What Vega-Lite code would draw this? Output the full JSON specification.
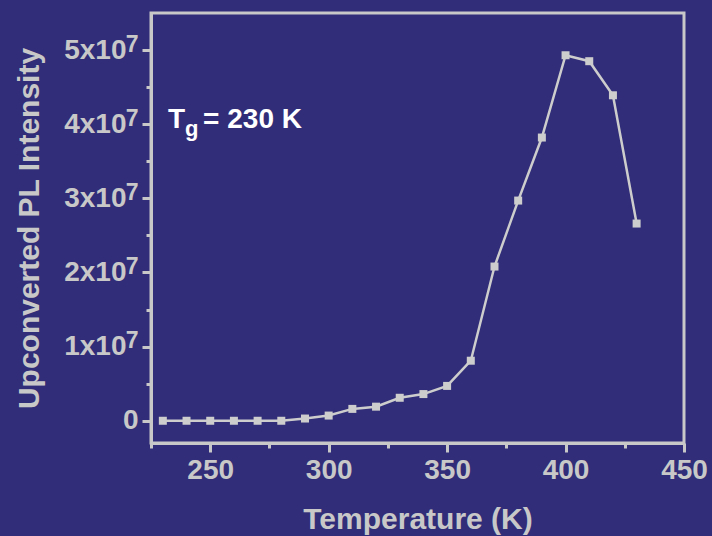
{
  "$schema": "https://vega.github.io/schema/vega-lite/v6.json",
  "width": 533,
  "height": 430,
  "autosize": {"type": "none"},
  "padding": {"left": 151, "top": 13, "right": 28, "bottom": 93},
  "background": "#312d78",
  "config": {
    "view": {"stroke": "#c8c8c8", "strokeWidth": 3},
    "font": "Liberation Sans",
    "axis": {
      "grid": false,
      "domainColor": "#c8c8c8",
      "domainWidth": 3,
      "tickColor": "#c8c8c8",
      "tickWidth": 3,
      "labelColor": "#c8c8c8",
      "labelFont": "Liberation Sans",
      "labelFontWeight": "bold",
      "labelFontSize": 28,
      "titleColor": "#c8c8c8",
      "titleFont": "Liberation Sans",
      "titleFontWeight": "bold",
      "titleFontSize": 30
    }
  },
  "data": {
    "values": [
      {"T": 230, "I": 0},
      {"T": 240, "I": 0},
      {"T": 250, "I": 0},
      {"T": 260, "I": 0},
      {"T": 270, "I": 0},
      {"T": 280, "I": 0},
      {"T": 290, "I": 300000},
      {"T": 300, "I": 700000},
      {"T": 310, "I": 1600000},
      {"T": 320, "I": 1900000},
      {"T": 330, "I": 3100000},
      {"T": 340, "I": 3600000},
      {"T": 350, "I": 4700000},
      {"T": 360, "I": 8100000},
      {"T": 370, "I": 20800000},
      {"T": 380, "I": 29700000},
      {"T": 390, "I": 38200000},
      {"T": 400, "I": 49300000},
      {"T": 410, "I": 48500000},
      {"T": 420, "I": 43900000},
      {"T": 430, "I": 26600000}
    ]
  },
  "resolve": {"axis": {"y": "independent"}},
  "layer": [
    {
      "mark": {"type": "line", "color": "#cdcdcd", "strokeWidth": 2.5},
      "encoding": {
        "x": {
          "field": "T", "type": "quantitative",
          "scale": {"domain": [225, 450], "nice": false, "zero": false},
          "axis": {
            "title": "Temperature (K)",
            "values": [225, 250, 275, 300, 325, 350, 375, 400, 425, 450],
            "labelExpr": "datum.value % 50 == 0 ? datum.label : ''",
            "tickSize": {"condition": {"test": "datum.value % 50 == 0", "value": 9}, "value": 5},
            "labelPadding": 4,
            "titlePadding": 20,
            "labelFlush": false,
            "labelOverlap": false
          }
        },
        "y": {
          "field": "I", "type": "quantitative",
          "scale": {"domain": [-3000000, 55000000], "nice": false, "zero": false},
          "axis": {
            "orient": "left",
            "title": "Upconverted PL Intensity",
            "values": [0, 5000000, 10000000, 15000000, 20000000, 25000000, 30000000, 35000000, 40000000, 45000000, 50000000],
            "labelExpr": "datum.value != 0 && datum.value % 10000000 == 0 ? format(datum.value / 10000000, 'd') + 'x10' : ''",
            "tickSize": {"condition": {"test": "datum.value % 10000000 == 0", "value": 9}, "value": 5},
            "labelPadding": 16,
            "titlePadding": 19,
            "labelFlush": false,
            "labelOverlap": false
          }
        }
      }
    },
    {
      "mark": {"type": "point", "shape": "square", "filled": true, "size": 64, "color": "#cdcdcd", "opacity": 1},
      "encoding": {
        "x": {"field": "T", "type": "quantitative"},
        "y": {
          "field": "I", "type": "quantitative",
          "axis": {
            "orient": "left",
            "title": null,
            "domain": false,
            "ticks": false,
            "values": [0, 10000000, 20000000, 30000000, 40000000, 50000000],
            "labelExpr": "datum.value == 0 ? '0' : '7'",
            "labelFontSize": {"condition": {"test": "datum.value == 0", "value": 28}, "value": 23},
            "labelOffset": {"condition": {"test": "datum.value == 0", "value": 0}, "value": -6},
            "labelPadding": 13,
            "labelFlush": false,
            "labelOverlap": false
          }
        }
      }
    },
    {
      "data": {"values": [{}]},
      "mark": {"type": "text", "text": "T", "color": "white", "fontSize": 28, "fontWeight": "bold", "align": "left", "baseline": "alphabetic", "font": "Liberation Sans"},
      "encoding": {"x": {"datum": 232.2}, "y": {"datum": 39500000, "axis": null}}
    },
    {
      "data": {"values": [{}]},
      "mark": {"type": "text", "text": "g", "color": "white", "fontSize": 22, "fontWeight": "bold", "align": "left", "baseline": "alphabetic", "font": "Liberation Sans"},
      "encoding": {"x": {"datum": 239.3}, "y": {"datum": 38400000, "axis": null}}
    },
    {
      "data": {"values": [{}]},
      "mark": {"type": "text", "text": "= 230 K", "color": "white", "fontSize": 28, "fontWeight": "bold", "align": "left", "baseline": "alphabetic", "font": "Liberation Sans"},
      "encoding": {"x": {"datum": 247}, "y": {"datum": 39500000, "axis": null}}
    }
  ]
}
